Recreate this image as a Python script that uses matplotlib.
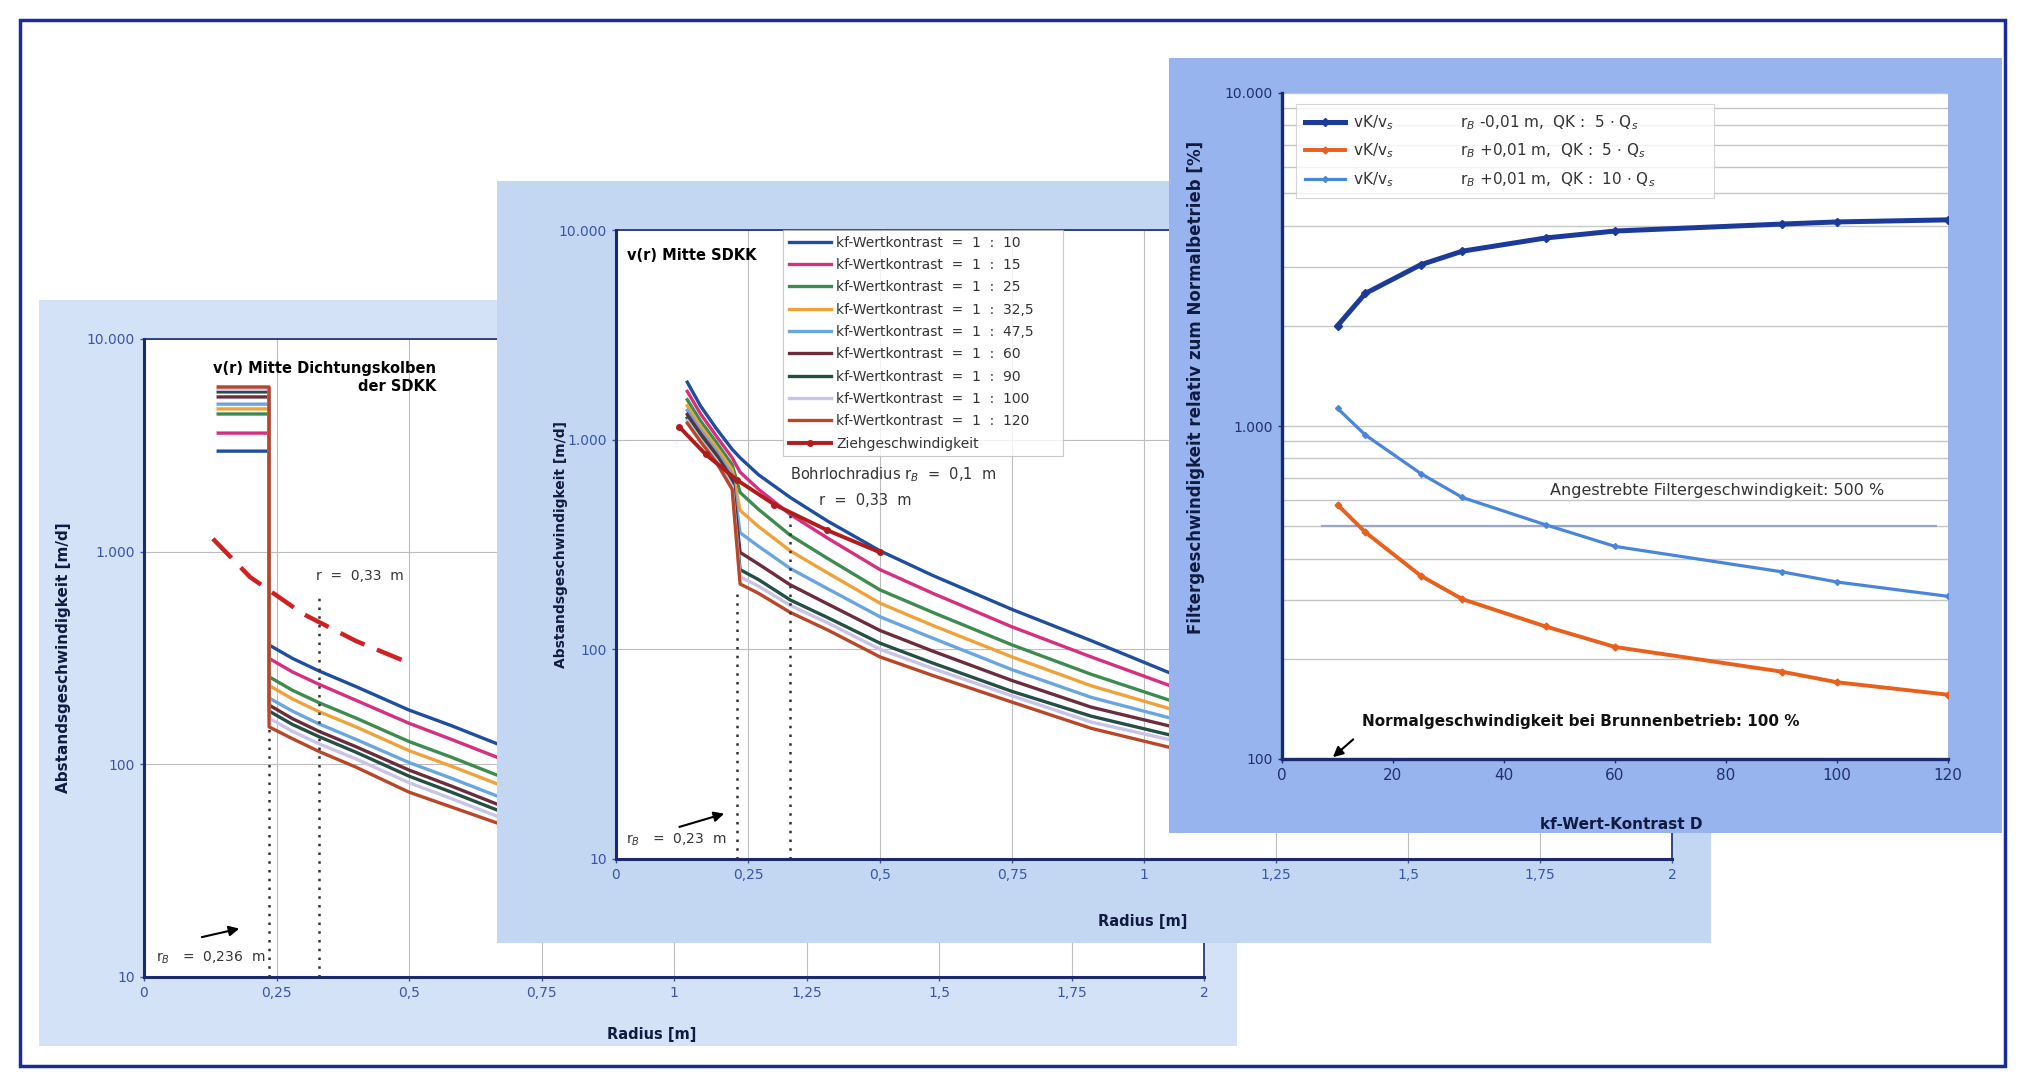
import matplotlib
matplotlib.use("Agg")
import matplotlib.pyplot as plt
from matplotlib.patches import Rectangle
from matplotlib.ticker import NullLocator, LogLocator, NullFormatter

plt.rcParams['font.family'] = ['DejaVu Sans']

# ---------------- data ----------------
contrasts = ["10", "15", "25", "32,5", "47,5", "60", "90", "100", "120"]
series_colors = ['#1f4e9e', '#d62f7f', '#3d8b4f', '#f0a23a', '#6aa6de',
                 '#6b2c3c', '#234f45', '#c9c3ea', '#b8472a']
zieh_color = '#b01c1c'

radius_ticks = [0, 0.25, 0.5, 0.75, 1, 1.25, 1.5, 1.75, 2]
radius_ticklabels = ["0", "0,25", "0,5", "0,75", "1", "1,25", "1,5", "1,75", "2"]
v_ticks = [10, 100, 1000, 10000]
v_ticklabels = ["10", "100", "1.000", "10.000"]

# left panel: v(r) Mitte Dichtungskolben der SDKK
p1_r_plateau = [0.14, 0.236]
p1_plateau = [2970, 3610, 4440, 4690, 4940, 5340, 5640, 5800, 5950]
p1_r = [0.236, 0.28, 0.33, 0.4, 0.5, 0.58, 0.666, 0.8, 1.0, 1.5, 2.0]
p1_v = [
    [364, 315, 275, 232, 180, 152, 125, 105, 82, 55, 41],
    [315, 272, 238, 200, 156, 131, 108, 91, 71, 48, 36],
    [258, 223, 195, 165, 128, 108, 89, 75, 58, 39, 29],
    [235, 203, 177, 150, 116, 98, 81, 68, 53, 35, 26],
    [205, 178, 155, 131, 102, 86, 71, 59, 46, 31, 23],
    [190, 164, 143, 121, 94, 79, 65, 55, 43, 29, 21],
    [178, 154, 135, 114, 88, 74, 61, 51, 40, 27, 20],
    [165, 143, 125, 106, 82, 69, 57, 48, 37, 25, 19],
    [150, 132, 115, 97, 74, 63, 53, 44, 35, 23, 17],
]
p1_zieh_r = [0.13, 0.2, 0.3, 0.4, 0.5]
p1_zieh_v = [1150, 760, 510, 380, 300]
p1_mark_r = [0.236, 0.33]
p1_mark_top = [150, 610]

# middle panel: v(r) Mitte SDKK
p2_r = [0.135, 0.16, 0.19, 0.22, 0.235, 0.27, 0.33, 0.4, 0.5, 0.6, 0.75, 0.9,
        1.05, 1.25, 1.5, 2.0]
p2_v = [
    [1880, 1450, 1130, 900, 820, 680, 530, 410, 295, 225, 155, 110, 77, 57, 43, 28],
    [1700, 1330, 1040, 820, 700, 580, 440, 340, 240, 185, 128, 92, 67, 50, 38, 25],
    [1550, 1230, 970, 760, 560, 465, 350, 272, 192, 150, 105, 76, 57, 43, 33, 22],
    [1450, 1160, 920, 720, 460, 385, 295, 232, 166, 130, 92, 67, 52, 39, 30, 20],
    [1380, 1110, 880, 680, 360, 310, 243, 195, 143, 113, 80, 59, 47, 35, 27, 18],
    [1320, 1070, 850, 650, 290, 255, 203, 165, 123, 98, 71, 53, 43, 32, 25, 17],
    [1270, 1030, 820, 620, 240, 215, 172, 142, 107, 86, 63, 48, 39, 29, 23, 16],
    [1230, 1000, 800, 600, 222, 200, 162, 134, 100, 81, 60, 45, 37, 28, 22, 15],
    [1200, 980, 780, 580, 205, 185, 150, 124, 92, 75, 56, 42, 34, 26, 21, 14],
]
p2_zieh_r = [0.12, 0.17, 0.23, 0.3, 0.4, 0.5]
p2_zieh_v = [1150, 850, 640, 490, 370, 290]
p2_mark_r = [0.23, 0.33]
p2_mark_top = [190, 450]

# right panel: filter velocity relative to normal operation
kf_contrast = [10, 15, 25, 32.5, 47.5, 60, 90, 100, 120]
rel_minus_5 = [2000, 2500, 3050, 3350, 3670, 3850, 4040, 4100, 4160]
rel_plus_5 = [580, 480, 355, 302, 250, 217, 183, 170, 156]
rel_plus_10 = [1130, 940, 720, 610, 505, 435, 365, 340, 308]
target_pct = 500
normal_pct = 100
p3_xticks = [0, 20, 40, 60, 80, 100, 120]
p3_yticks = [100, 1000, 10000]
p3_yticklabels = ["100", "1.000", "10.000"]

# ---------------- layout ----------------
W, H = 2025, 1075
fig = plt.figure(figsize=(W / 100, H / 100), dpi=100)
fig.patch.set_facecolor('white')

NAVY = '#1a2a6c'
TICKBLUE = '#3a55a8'
LABEL = '#111a40'


def frac(x0, y0, x1, y1):
    return [x0 / W, 1 - y1 / H, (x1 - x0) / W, (y1 - y0) / H]


def panel_bg(box, color, z):
    bg = fig.add_axes(frac(*box), zorder=z)
    bg.set_facecolor(color)
    bg.set_xticks([])
    bg.set_yticks([])
    for s in bg.spines.values():
        s.set_visible(False)
    return bg


def style_radius_axes(ax):
    ax.set_facecolor('white')
    ax.set_yscale('log')
    ax.set_xlim(0, 2)
    ax.set_ylim(10, 10000)
    ax.set_xticks(radius_ticks)
    ax.set_xticklabels(radius_ticklabels)
    ax.set_yticks(v_ticks)
    ax.set_yticklabels(v_ticklabels)
    ax.yaxis.set_minor_locator(NullLocator())
    ax.grid(True, color='#bdbdbd', lw=0.8)
    ax.set_axisbelow(True)
    ax.tick_params(labelsize=10, colors=TICKBLUE, length=3, width=1)
    for side in ('left', 'bottom'):
        ax.spines[side].set_color(NAVY)
        ax.spines[side].set_linewidth(2.2)
    for side in ('top', 'right'):
        ax.spines[side].set_color(NAVY)
        ax.spines[side].set_linewidth(1.2)


# outer frame
fig.add_artist(Rectangle((20 / W, 1 - 1066 / H), 1985 / W, 1046 / H,
                         transform=fig.transFigure, fill=False,
                         ec='#1a2b9a', lw=2.5, zorder=0))

# ---- panel 1 ----
panel_bg((39, 300, 1237, 1046), '#d3e2f6', 1)
ax1 = fig.add_axes(frac(144, 339, 1204, 977), zorder=2)
style_radius_axes(ax1)
for i, col in enumerate(series_colors):
    rr = p1_r_plateau + p1_r
    vv = [p1_plateau[i], p1_plateau[i]] + p1_v[i]
    ax1.plot(rr, vv, color=col, lw=2.4, zorder=3)
ax1.plot(p1_zieh_r, p1_zieh_v, color='#d02020', lw=3.2, ls=(0, (6, 3)), zorder=4)
ax1.vlines(p1_mark_r, 10, p1_mark_top, colors='#333333', lw=1.8,
           linestyles=(0, (1, 2.5)), zorder=4)
ax1.text(0.2755, 0.965, "v(r) Mitte Dichtungskolben\nder SDKK", transform=ax1.transAxes,
         ha='right', va='top', fontsize=10.5, fontweight='bold', multialignment='right')
ax1.text(0.325, 770, "r  =  0,33  m", fontsize=10, color='#333333', va='center')
ax1.text(0.022, 12.3, "r$_B$   =  0,236  m", fontsize=10, color='#333333', va='center')
ax1.annotate("", xy=(0.185, 17.0), xytext=(0.104, 15.3),
             arrowprops=dict(arrowstyle='-|>', color='black', lw=1.5, mutation_scale=15))
ax1.set_ylabel("Abstandsgeschwindigkeit [m/d]", fontsize=11, fontweight='bold', color=LABEL)
ax1.yaxis.set_label_coords(-0.069, 0.5)
ax1.set_xlabel("Radius [m]", fontsize=10.5, fontweight='bold', color=LABEL)
ax1.xaxis.set_label_coords(0.479, -0.078)

# ---- panel 2 ----
panel_bg((497, 181, 1711, 943), '#c3d7f3', 3)
ax2 = fig.add_axes(frac(616, 230, 1672, 859), zorder=4)
style_radius_axes(ax2)
handles = []
for i, col in enumerate(series_colors):
    h, = ax2.plot(p2_r, p2_v[i], color=col, lw=2.4, zorder=3,
                  label=f"kf-Wertkontrast  =  1  :  {contrasts[i]}")
    handles.append(h)
hz, = ax2.plot(p2_zieh_r, p2_zieh_v, color=zieh_color, lw=2.8, marker='o', ms=4,
               zorder=4, label="Ziehgeschwindigkeit")
handles.append(hz)
ax2.vlines(p2_mark_r, 10, p2_mark_top, colors='#333333', lw=1.8,
           linestyles=(0, (1, 2.5)), zorder=4)
leg2 = ax2.legend(handles=handles, loc='upper left', bbox_to_anchor=(0.152, 1.011, 0.278, 0.0),
                  mode='expand', fontsize=10, labelspacing=0.6, handlelength=3.0,
                  handletextpad=0.4, borderpad=0.4, frameon=True, fancybox=False)
leg2.get_frame().set_edgecolor('#bbbbbb')
leg2.get_frame().set_linewidth(0.8)
for t in leg2.get_texts():
    t.set_color('#333333')
ax2.text(0.01, 0.959, "v(r) Mitte SDKK", transform=ax2.transAxes, ha='left', va='center',
         fontsize=10.5, fontweight='bold')
ax2.text(0.33, 680, "Bohrlochradius r$_B$  =  0,1  m", fontsize=10.5, color='#333333',
         va='center')
ax2.text(0.385, 515, "r  =  0,33  m", fontsize=10.5, color='#333333', va='center')
ax2.text(0.019, 12.3, "r$_B$   =  0,23  m", fontsize=10, color='#333333', va='center')
ax2.annotate("", xy=(0.21, 16.6), xytext=(0.115, 14.1),
             arrowprops=dict(arrowstyle='-|>', color='black', lw=1.5, mutation_scale=15))
ax2.set_ylabel("Abstandsgeschwindigkeit [m/d]", fontsize=10, fontweight='bold', color=LABEL)
ax2.yaxis.set_label_coords(-0.0455, 0.5)
ax2.set_xlabel("Radius [m]", fontsize=10.5, fontweight='bold', color=LABEL)
ax2.xaxis.set_label_coords(0.499, -0.087)

# ---- panel 3 ----
panel_bg((1169, 58, 2002, 833), '#98b4ee', 5)
ax3 = fig.add_axes(frac(1282, 93, 1948, 759), zorder=6)
ax3.set_facecolor('white')
ax3.set_yscale('log')
ax3.set_xlim(0, 120)
ax3.set_ylim(100, 10000)
ax3.set_xticks(p3_xticks)
ax3.set_yticks(p3_yticks)
ax3.set_yticklabels(p3_yticklabels)
ax3.yaxis.set_minor_locator(LogLocator(base=10, subs=range(2, 10)))
ax3.yaxis.set_minor_formatter(NullFormatter())
ax3.grid(True, axis='y', which='both', color='#c6c6c6', lw=1.0)
ax3.set_axisbelow(True)
ax3.tick_params(axis='x', labelsize=11, colors='#22306e', length=3, width=1)
ax3.tick_params(axis='y', labelsize=10, colors='#22306e', length=3, width=1)
ax3.tick_params(which='minor', length=0)
for side in ('top', 'right'):
    ax3.spines[side].set_visible(False)
for side in ('left', 'bottom'):
    ax3.spines[side].set_color(NAVY)
    ax3.spines[side].set_linewidth(2.4)

ax3.hlines(target_pct, 7, 118, colors='#9aa6c4', lw=1.6, zorder=2)
h1, = ax3.plot(kf_contrast, rel_minus_5, color='#1c3a9a', lw=3.6, marker='D', ms=4, zorder=4)
h2, = ax3.plot(kf_contrast, rel_plus_5, color='#e8601c', lw=2.8, marker='D', ms=3.5, zorder=4)
h3, = ax3.plot(kf_contrast, rel_plus_10, color='#4a86d8', lw=2.3, marker='D', ms=3, zorder=4)
gap = " " * 14
labels3 = ["vK/v$_s$" + gap + "r$_B$ -0,01 m,  QK :  5 $\\cdot$ Q$_s$",
           "vK/v$_s$" + gap + "r$_B$ +0,01 m,  QK :  5 $\\cdot$ Q$_s$",
           "vK/v$_s$" + gap + "r$_B$ +0,01 m,  QK :  10 $\\cdot$ Q$_s$"]
leg3 = ax3.legend([h1, h2, h3], labels3, loc='upper left',
                  bbox_to_anchor=(0.01, 0.995, 0.65, 0.0), mode='expand',
                  fontsize=11, labelspacing=0.65, handlelength=2.6, handletextpad=0.5,
                  borderpad=0.6, frameon=True, fancybox=False)
leg3.get_frame().set_edgecolor('#cccccc')
leg3.get_frame().set_linewidth(0.8)
for t in leg3.get_texts():
    t.set_color('#333333')

ax3.text(48.3, 640, "Angestrebte Filtergeschwindigkeit: 500 %", fontsize=11.5,
         color='#333333', va='center')
ax3.text(14.4, 130, "Normalgeschwindigkeit bei Brunnenbetrieb: 100 %", fontsize=11,
         fontweight='bold', color='#111111', va='center')
ax3.annotate("", xy=(8.8, normal_pct), xytext=(13.2, 116),
             arrowprops=dict(arrowstyle='-|>', color='black', lw=1.5, mutation_scale=15))
ax3.set_ylabel("Filtergeschwindigkeit relativ zum Normalbetrieb [%]", fontsize=12,
               fontweight='bold', color=LABEL)
ax3.yaxis.set_label_coords(-0.1156, 0.558)
ax3.set_xlabel("kf-Wert-Kontrast D", fontsize=11, fontweight='bold', color=LABEL)
ax3.xaxis.set_label_coords(0.509, -0.087)

fig.savefig("out.png", dpi=100, facecolor='white')
